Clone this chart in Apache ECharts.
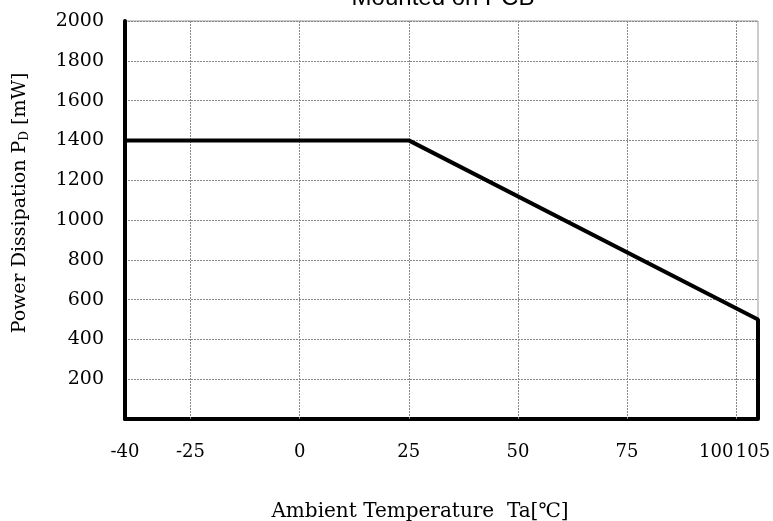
<!DOCTYPE html>
<html><head><meta charset="utf-8">
<script src="https://cdn.jsdelivr.net/npm/echarts@6/dist/echarts.min.js"></script>
<style>html,body{margin:0;padding:0;background:#fff}#c{width:773px;height:521px}</style>
</head><body><div id="c"></div>
<script>
const temps = [-40, 25, 105, 105];
const power = [1400, 1400, 500, 0];
const xTickLabels = [-40, -25, 0, 25, 50, 75, 100, 105];
const xGridLines = [-25, 0, 25, 50, 75, 100];
const yTickLabels = [200, 400, 600, 800, 1000, 1200, 1400, 1600, 1800, 2000];

const serif = 'DejaVu Serif';
const chart = echarts.init(document.getElementById('c'), null, {renderer: 'canvas'});
chart.setOption({
  animation: false,
  backgroundColor: '#fff',
  title: [
    {text: 'Mounted on PCB', left: 438, top: -19, textAlign: 'center',
     textStyle: {fontFamily: 'Liberation Sans', fontSize: 24, fontWeight: 'normal', color: '#000'}},
    {text: 'Ambient Temperature  Ta[℃]', left: 415, top: 497, textAlign: 'center',
     textStyle: {fontFamily: serif, fontSize: 20, fontWeight: 'normal', color: '#000'}}
  ],
  grid: {left: 125, right: 15, top: 21, bottom: 102, show: true, borderColor: '#999', borderWidth: 1,
         containLabel: false, outerBoundsMode: 'none'},
  xAxis: {
    type: 'value', min: -40, max: 105, interval: 5,
    axisLine: {show: true, onZero: false, lineStyle: {color: '#000', width: 4}},
    axisTick: {show: false},
    splitLine: {show: false},
    axisLabel: {margin: 24, fontFamily: serif, fontSize: 18, color: '#000',
      showMinLabel: true, showMaxLabel: true, hideOverlap: false,
      formatter: v => v === 100 ? '{a|100}' : v === 105 ? '{b|105}' : (xTickLabels.includes(v) ? String(v) : ''),
      rich: {
        a: {fontFamily: serif, fontSize: 18, color: '#000', padding: [0, 40, 0, 0]},
        b: {fontFamily: serif, fontSize: 18, color: '#000', padding: [0, 10, 0, 0]}
      }}
  },
  yAxis: {
    type: 'value', min: 0, max: 2000, interval: 200,
    name: 'Power Dissipation P{sub|D} [mW]', nameLocation: 'middle', nameGap: 94,
    nameTextStyle: {fontFamily: serif, fontSize: 19, color: '#000', padding: [0, 0, 0, 34],
      rich: {sub: {fontFamily: serif, fontSize: 12, color: '#000', verticalAlign: 'bottom', padding: [9, 0, 0, 0]}}},
    axisLine: {show: true, onZero: false, lineStyle: {color: '#000', width: 4}},
    axisTick: {show: false},
    splitLine: {show: true, lineStyle: {color: '#888', width: 1, type: [2, 1]}},
    axisLabel: {margin: 21, fontFamily: serif, fontSize: 19, color: '#000',
      formatter: v => yTickLabels.includes(v) ? String(v) : ''}
  },
  series: [{
    type: 'line', symbol: 'none', clip: false,
    data: temps.map((t, i) => [t, power[i]]),
    lineStyle: {color: '#000', width: 4},
    markLine: {silent: true, symbol: 'none', label: {show: false},
      lineStyle: {color: '#888', width: 1, type: [2, 1]},
      data: xGridLines.map(x => ({xAxis: x}))},
    z: 5
  }]
});
</script></body></html>
